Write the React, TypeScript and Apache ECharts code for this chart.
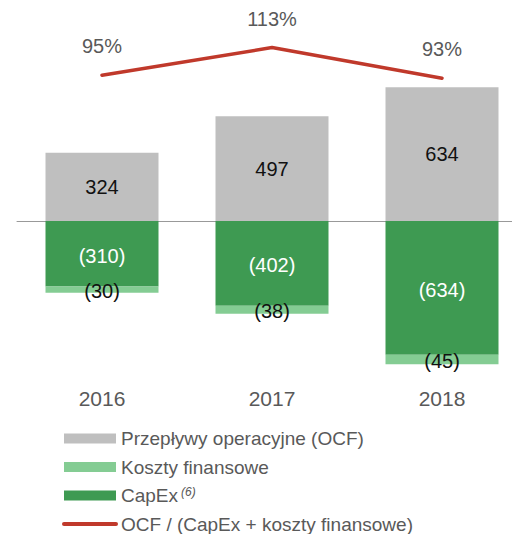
import React, { useEffect, useRef } from "react";
import * as echarts from "echarts";

const years = ["2016", "2017", "2018"];
const ocf = [324, 497, 634];
const capex = [-310, -402, -634];
const finance = [-30, -38, -45];
const ratio = [95, 113, 93];

const FONT = "'Liberation Sans', Arial, sans-serif";
const neg = (p: any) => `(${Math.abs(p.value)})`;

export default function App() {
  const ref = useRef<HTMLDivElement>(null);
  useEffect(() => {
    if (!ref.current) return;
    const chart = echarts.init(ref.current, null, { renderer: "svg" });
    chart.setOption({
      animation: false,
      textStyle: { fontFamily: FONT },
      grid: { left: 17, width: 510, top: 52.2, height: 333.4, outerBoundsMode: "none" },
      legend: {
        orient: "vertical",
        left: 62,
        top: 429,
        padding: 0,
        itemWidth: 52,
        itemHeight: 10,
        itemGap: 9.5,
        data: [
          { name: "Przepływy operacyjne (OCF)", icon: "rect" },
          { name: "Koszty finansowe", icon: "rect" },
          { name: "CapEx", icon: "rect" },
          {
            name: "OCF / (CapEx + koszty finansowe)",
            itemStyle: { opacity: 0 },
            lineStyle: { width: 4, color: "#C0392B", cap: "round" },
          },
        ],
        formatter: (name: string) => (name === "CapEx" ? "CapEx{sup|(6)}" : name),
        textStyle: {
          fontFamily: FONT,
          fontSize: 19,
          lineHeight: 18.5,
          color: "#595959",
          rich: {
            sup: {
              fontFamily: FONT,
              fontSize: 12,
              lineHeight: 12,
              fontStyle: "italic",
              color: "#595959",
              verticalAlign: "top",
              padding: [0, 0, 0, 3],
            },
          },
        },
      },
      xAxis: [
        {
          type: "category",
          data: years,
          axisLine: { onZero: true, onZeroAxisIndex: 0, lineStyle: { color: "#999999", width: 1 } },
          axisTick: { show: false },
          axisLabel: { show: false },
        },
        {
          type: "category",
          data: years,
          position: "bottom",
          axisLine: { show: false, onZero: false },
          axisTick: { show: false },
          axisLabel: { margin: 2, fontSize: 21, color: "#595959", fontFamily: FONT },
        },
      ],
      yAxis: [
        { type: "value", min: -780, max: 800, show: false, splitLine: { show: false } },
        { type: "value", min: -107.2, max: 110, show: false, splitLine: { show: false } },
      ],
      series: [
        {
          name: "Przepływy operacyjne (OCF)",
          type: "bar",
          stack: "a",
          barWidth: 113,
          data: ocf,
          itemStyle: { color: "#BFBFBF" },
          label: { show: true, position: "inside", color: "#111111", fontSize: 20, fontFamily: FONT },
        },
        {
          name: "CapEx",
          type: "bar",
          stack: "a",
          barWidth: 113,
          data: capex,
          itemStyle: { color: "#3E9A52" },
          label: { show: true, position: "inside", color: "#ffffff", fontSize: 20, fontFamily: FONT, formatter: neg, offset: [0, 2] },
        },
        {
          name: "Koszty finansowe",
          type: "bar",
          stack: "a",
          barWidth: 113,
          data: finance,
          itemStyle: { color: "#84CC93" },
          label: { show: true, position: "inside", color: "#111111", fontSize: 20, fontFamily: FONT, formatter: neg, offset: [0, 1] },
        },
        {
          name: "OCF / (CapEx + koszty finansowe)",
          type: "line",
          yAxisIndex: 1,
          data: ratio,
          symbol: "circle",
          symbolSize: 2,
          showSymbol: true,
          clip: false,
          z: 5,
          lineStyle: { color: "#C0392B", width: 3.5, cap: "round" },
          itemStyle: { color: "#C0392B" },
          label: {
            show: true,
            position: "top",
            distance: 18,
            formatter: "{c}%",
            fontSize: 20,
            color: "#595959",
            fontFamily: FONT,
          },
        },
      ],
    });
    return () => chart.dispose();
  }, []);
  return (
    <div style={{ position: "absolute", left: 0, top: 0, width: 512, height: 534, overflow: "hidden" }}>
      <div ref={ref} style={{ width: 540, height: 580 }} />
    </div>
  );
}
